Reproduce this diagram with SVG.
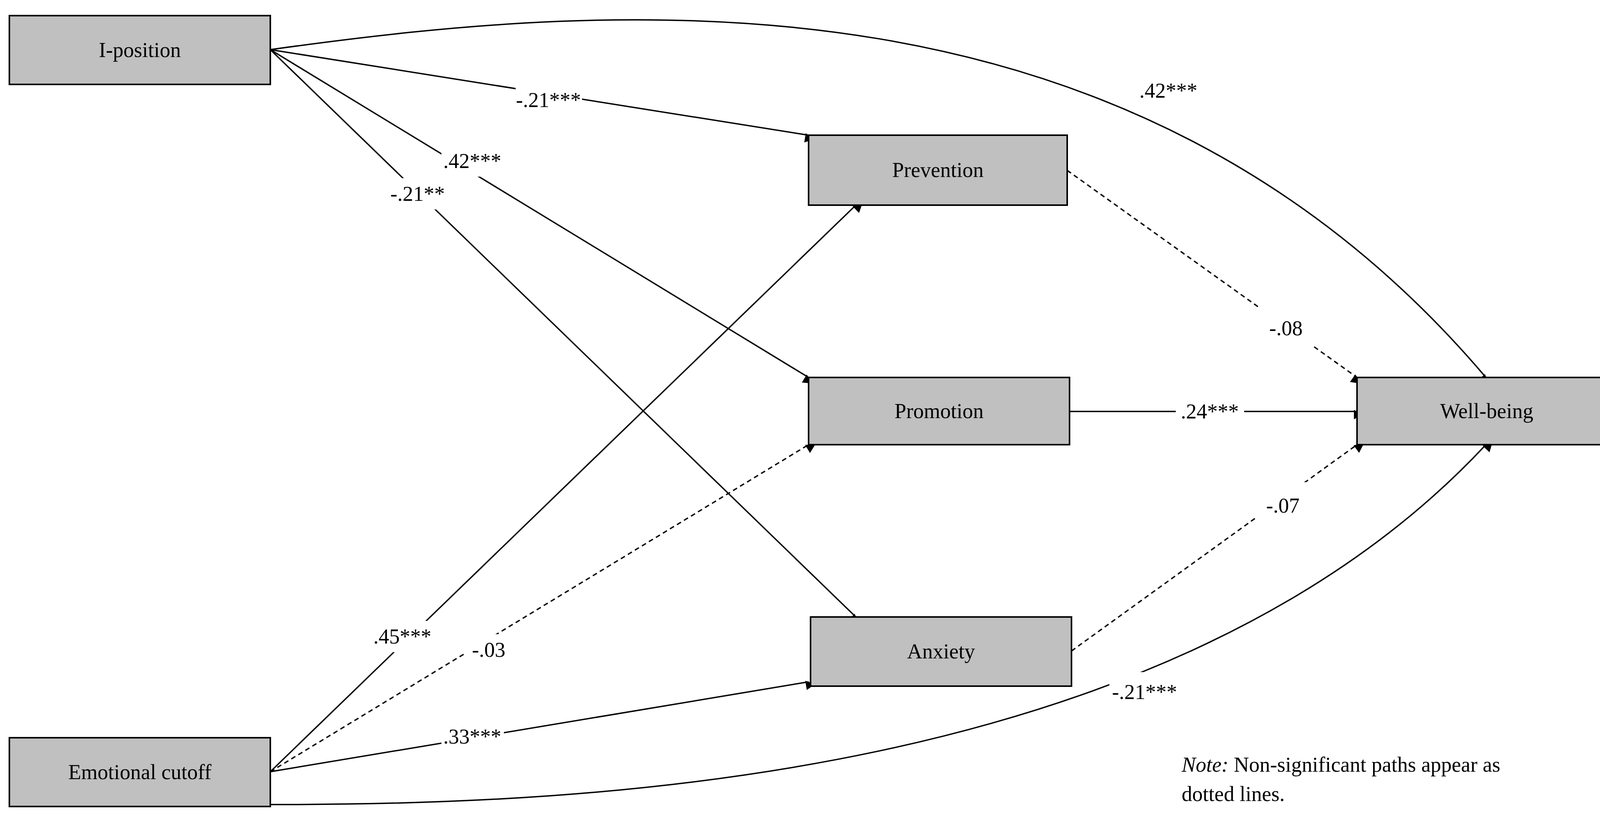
<svg xmlns="http://www.w3.org/2000/svg" width="4119" height="2096" viewBox="0 0 4119 2096">
<style>
.box{fill:#c0c0c0;stroke:#000;stroke-width:4}
.t{font-family:"Liberation Serif",serif;font-size:54px;fill:#000;text-anchor:middle;dominant-baseline:central}
.e{fill:none;stroke:#000;stroke-width:3.5}
.d{stroke-dasharray:12 9}
.lb{fill:#fff}
</style>
<defs>
<marker id="a" viewBox="0 0 10 10" refX="10" refY="5" markerWidth="8" markerHeight="8" markerUnits="userSpaceOnUse" orient="auto" style="overflow:visible">
<path d="M0,0 L10,5 L0,10 z" fill="#000" transform="scale(3)"/>
</marker>
</defs>
<rect width="4119" height="2096" fill="#fff"/>
<g id="connectors">
<path class="e" d="M692,127 L2070,346" marker-end="url(#a)"/>
<path class="e" d="M692,127 L2070,966" marker-end="url(#a)"/>
<path class="e" d="M692,127 L2191,1579" marker-end="url(#a)"/>
<path class="e" d="M692,127 C1600,0 2900,-100 3804,966" marker-end="url(#a)"/>
<path class="e" d="M692,1975 L2191,525" marker-end="url(#a)"/>
<path class="e d" d="M692,1975 L2070,1138" marker-end="url(#a)"/>
<path class="e" d="M692,1975 L2070,1745" marker-end="url(#a)"/>
<path class="e" d="M692,2059 C1500,2060 3000,2000 3804,1138" marker-end="url(#a)"/>
<path class="e d" d="M2732,436 L3474,966" marker-end="url(#a)"/>
<path class="e" d="M2738,1053 L3474,1053" marker-end="url(#a)"/>
<path class="e d" d="M2743,1666 L3474,1138" marker-end="url(#a)"/>
<g id="labels">
<rect class="lb" x="1320" y="216" width="170" height="80"/><text class="t" x="1404" y="256">-.21***</text>
<rect class="lb" x="1130" y="372" width="160" height="80"/><text class="t" x="1209" y="412">.42***</text>
<rect class="lb" x="990" y="456" width="160" height="80"/><text class="t" x="1069" y="496">-.21**</text>
<rect class="lb" x="2905" y="180" width="175" height="110"/><text class="t" x="2991" y="232">.42***</text>
<rect class="lb" x="950" y="1589" width="160" height="80"/><text class="t" x="1030" y="1629">.45***</text>
<rect class="lb" x="1190" y="1623" width="120" height="80"/><text class="t" x="1251" y="1663">-.03</text>
<rect class="lb" x="1130" y="1845" width="160" height="80"/><text class="t" x="1209" y="1885">.33***</text>
<rect class="lb" x="2840" y="1720" width="180" height="105"/><text class="t" x="2930" y="1771">-.21***</text>
<rect class="lb" x="3225" y="780" width="135" height="120"/><text class="t" x="3292" y="840">-.08</text>
<rect class="lb" x="3010" y="1013" width="175" height="80"/><text class="t" x="3097" y="1053">.24***</text>
<rect class="lb" x="3215" y="1234" width="135" height="120"/><text class="t" x="3284" y="1294">-.07</text>
</g>
</g>
<g id="n-iposition"><rect class="box" x="24" y="40" width="668" height="176"/><text class="t" x="358" y="128">I-position</text></g>
<g id="n-cutoff"><rect class="box" x="24" y="1888" width="668" height="176"/><text class="t" x="358" y="1976">Emotional cutoff</text></g>
<g id="n-prevention"><rect class="box" x="2070" y="346" width="662" height="179"/><text class="t" x="2401" y="435">Prevention</text></g>
<g id="n-promotion"><rect class="box" x="2070" y="966" width="668" height="172"/><text class="t" x="2404" y="1052">Promotion</text></g>
<g id="n-anxiety"><rect class="box" x="2075" y="1579" width="668" height="177"/><text class="t" x="2409" y="1667">Anxiety</text></g>
<g id="n-wellbeing"><rect class="box" x="3474" y="966" width="640" height="172"/><text class="t" x="3806" y="1052">Well-being</text></g>
<g id="note">
<text x="3025" y="1975" style="font-family:'Liberation Serif',serif;font-size:54px"><tspan font-style="italic">Note:</tspan> Non-significant paths appear as</text>
<text x="3025" y="2050" style="font-family:'Liberation Serif',serif;font-size:54px">dotted lines.</text>
</g>
</svg>
